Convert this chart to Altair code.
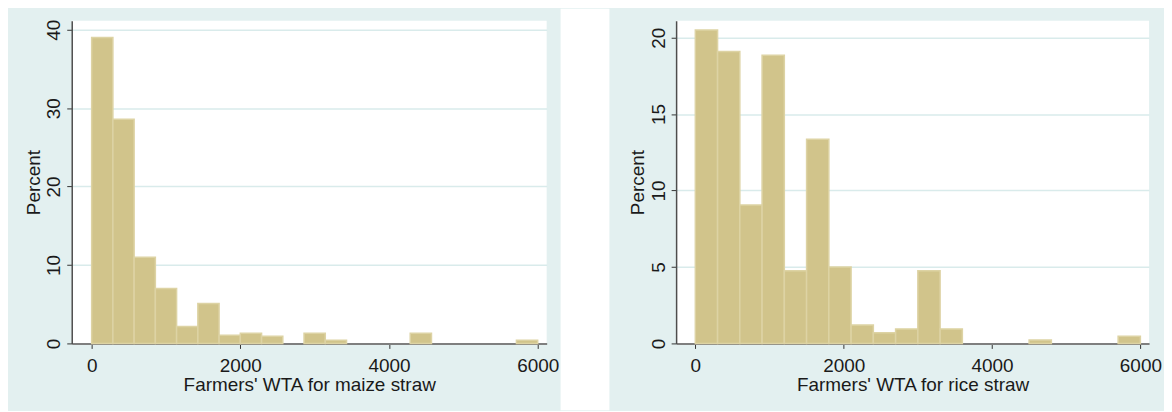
import altair as alt
import pandas as pd

# ---- data (percent per bin) ----
maize_pct = [39.0, 28.6, 11.0, 7.0, 2.15, 5.1, 1.05, 1.3, 0.9, 0.0, 1.3,
             0.42, 0.0, 0.0, 0.0, 1.3, 0.0, 0.0, 0.0, 0.0, 0.42]
maize_bin_width = 6000 / 21
rice_pct = [20.5, 19.1, 9.05, 18.85, 4.75, 13.35, 5.0, 1.2, 0.7, 0.95,
            4.75, 0.95, 0.0, 0.0, 0.0, 0.22, 0.0, 0.0, 0.0, 0.47]
rice_bin_width = 300
x_ticks = [0, 2000, 4000, 6000]
maize_y_ticks = [0, 10, 20, 30, 40]
rice_y_ticks = [0, 5, 10, 15, 20]
maize_title = "Farmers' WTA for maize straw"
rice_title = "Farmers' WTA for rice straw"
y_title = "Percent"

BG = "#e3f0f0"
BAR = "#d1c48b"
EDGE = "#ddd3a4"
FONT = "Liberation Sans"
TXT = "#1a1a1a"


def frame(pcts, width):
    return pd.DataFrame({
        "start": [i * width for i in range(len(pcts))],
        "end": [(i + 1) * width for i in range(len(pcts))],
        "pct": pcts,
    })


def panel(df, xtitle, yticks, xdom, ydom, w, h, bx, bx2, ytx, gap=None):
    one = pd.DataFrame({"a": [0]})
    layers = [
        alt.Chart(one).mark_rect(fill="transparent", strokeWidth=0).encode(
            x=alt.value(bx), x2=alt.value(bx2), y=alt.value(-12), y2=alt.value(391)
        )
    ]
    if gap is not None:
        layers.append(
            alt.Chart(one).mark_rect(fill="white", strokeWidth=0).encode(
                x=alt.value(gap[0]), x2=alt.value(gap[1]), y=alt.value(-12), y2=alt.value(391)
            )
        )
    bars = alt.Chart(df).transform_filter("datum.pct > 0").mark_rect(
        fill=BAR, stroke=EDGE, strokeWidth=1.5
    ).encode(
        x=alt.X("start:Q",
                scale=alt.Scale(domain=xdom, nice=False, zero=False),
                axis=alt.Axis(values=x_ticks, format="d", title=xtitle, grid=False,
                              domainColor="#7f7f7f", domainWidth=2,
                              tickColor="#333333", tickWidth=1, tickSize=5,
                              labelBaseline="alphabetic", labelPadding=23,
                              labelFlush=False,
                              titleX=w / 2, titleY=47, titleAlign="center",
                              titleBaseline="alphabetic")),
        x2="end:Q",
        y=alt.Y("pct:Q",
                scale=alt.Scale(domain=ydom, nice=False, zero=True),
                axis=alt.Axis(values=yticks, format="d", title=y_title, grid=True,
                              gridColor="#d9ebeb", gridWidth=1.5,
                              domainColor="#4d4d4d", domainWidth=1.5,
                              tickColor="#333333", tickWidth=1, tickSize=5,
                              labelAngle=270, labelAlign="center",
                              labelBaseline="alphabetic", labelPadding=7,
                              labelFlush=False,
                              titleX=ytx, titleY=h / 2, titleAngle=270,
                              titleAlign="center", titleBaseline="alphabetic")),
        y2=alt.datum(0),
    )
    layers.append(bars)
    return alt.layer(*layers).properties(width=w, height=h)


left = panel(frame(maize_pct, maize_bin_width), maize_title, maize_y_ticks,
             [-268, 6121], [0, 41.14], 477, 324, -64, 491, -32)
right = panel(frame(rice_pct, rice_bin_width), rice_title, rice_y_ticks,
              [-259, 6117], [0, 21.1], 475, 324, -116, 490, -33, gap=(-116, -67))

chart = alt.hconcat(left, right, spacing=130, bounds="flush").properties(
    background=BG, padding=0
).configure_view(
    fill="white", stroke=None
).configure_axis(
    labelFont=FONT, titleFont=FONT, labelFontSize=19, titleFontSize=19,
    labelColor=TXT, titleColor=TXT, titleFontWeight="normal"
)

chart.save("out.html", embed_options={"renderer": "svg", "actions": False})
